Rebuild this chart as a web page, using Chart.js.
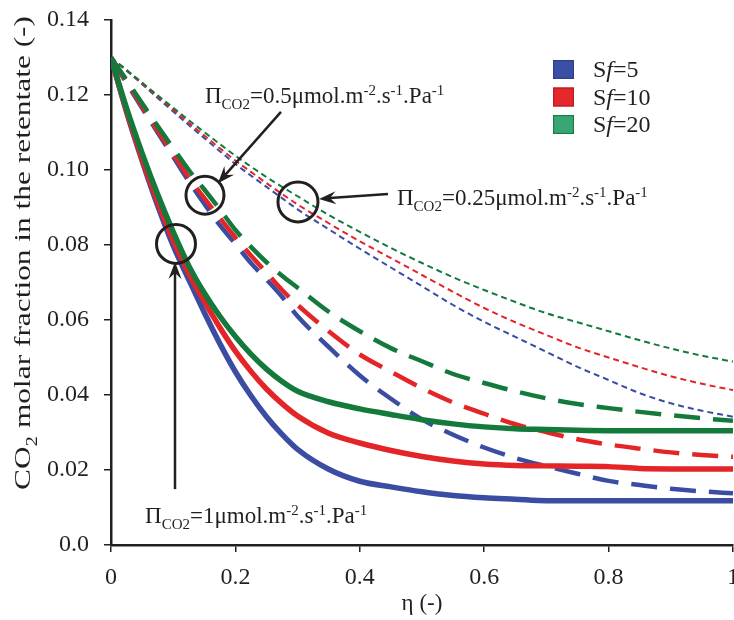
<!DOCTYPE html>
<html><head><meta charset="utf-8">
<script src="https://cdn.jsdelivr.net/npm/chart.js@4.4.0/dist/chart.umd.min.js"></script>
<style>html,body{margin:0;padding:0;background:#fff;overflow:hidden;}#wrap{width:760px;height:620px;}</style>
</head><body><div id="wrap"><canvas id="c" width="760" height="620"></canvas></div>
<script>
// ---- data ----
const eta = [0, 0.025, 0.05, 0.075, 0.1, 0.125, 0.15, 0.175, 0.2, 0.225, 0.25, 0.275, 0.3, 0.35, 0.4, 0.45, 0.5, 0.55, 0.6, 0.65, 0.7, 0.75, 0.8, 0.85, 0.9, 0.95, 1.0];
const sfLabels = ['5', '10', '20'];
const permeanceLabels = ['1', '0.5', '0.25'];
const xTickLabels = ['0', '0.2', '0.4', '0.6', '0.8', '1'];
const yTickLabels = ['0.0', '0.02', '0.04', '0.06', '0.08', '0.10', '0.12', '0.14'];

// Pi = 1
const pi1_sf5  = [0.130, 0.1155, 0.1025, 0.0905, 0.0798, 0.0708, 0.0620, 0.0537, 0.0462, 0.0398, 0.0342, 0.0295, 0.0255, 0.0202, 0.0170, 0.0155, 0.0142, 0.0132, 0.0126, 0.0122, 0.0118, 0.0118, 0.0118, 0.0118, 0.0118, 0.0118, 0.0118];
const pi1_sf10 = [0.130, 0.1158, 0.1030, 0.0915, 0.0812, 0.0725, 0.0650, 0.0580, 0.0517, 0.0463, 0.0416, 0.0377, 0.0344, 0.0298, 0.0272, 0.0252, 0.0236, 0.0224, 0.0216, 0.0212, 0.0211, 0.0210, 0.0209, 0.0204, 0.0203, 0.0203, 0.0203];
const pi1_sf20 = [0.130, 0.1165, 0.1045, 0.0935, 0.0835, 0.0745, 0.0672, 0.0610, 0.0556, 0.0509, 0.0469, 0.0436, 0.0410, 0.0382, 0.0363, 0.0348, 0.0334, 0.0323, 0.0315, 0.0310, 0.0308, 0.0306, 0.0305, 0.0305, 0.0305, 0.0305, 0.0305];
// Pi = 0.5
const pi05_sf5  = [0.130, 0.1232, 0.1165, 0.1100, 0.1035, 0.0970, 0.0910, 0.0853, 0.0803, 0.0752, 0.0708, 0.0662, 0.0610, 0.0528, 0.0452, 0.0390, 0.0335, 0.0294, 0.0260, 0.0232, 0.0210, 0.0190, 0.0171, 0.0160, 0.0150, 0.0143, 0.0138];
const pi05_sf10 = [0.130, 0.1235, 0.1170, 0.1105, 0.1042, 0.0980, 0.0925, 0.0872, 0.0820, 0.0772, 0.0726, 0.0680, 0.0640, 0.0570, 0.0508, 0.0462, 0.0418, 0.0380, 0.0350, 0.0322, 0.0301, 0.0282, 0.0268, 0.0257, 0.0247, 0.0240, 0.0235];
const pi05_sf20 = [0.130, 0.1240, 0.1178, 0.1117, 0.1058, 0.1000, 0.0948, 0.0895, 0.0840, 0.0795, 0.0754, 0.0718, 0.0686, 0.0622, 0.0570, 0.0525, 0.0490, 0.0456, 0.0432, 0.0410, 0.0391, 0.0376, 0.0365, 0.0355, 0.0346, 0.0338, 0.0331];
// Pi = 0.25
const pi025_sf5  = [0.130, 0.1265, 0.1229, 0.1192, 0.1156, 0.1120, 0.1085, 0.1050, 0.1016, 0.0985, 0.0955, 0.0925, 0.0895, 0.0842, 0.0790, 0.0740, 0.0690, 0.0640, 0.0595, 0.0555, 0.0515, 0.0475, 0.0440, 0.0405, 0.0378, 0.0358, 0.0342];
const pi025_sf10 = [0.130, 0.1266, 0.1231, 0.1196, 0.1161, 0.1126, 0.1092, 0.1058, 0.1025, 0.0995, 0.0965, 0.0936, 0.0908, 0.0858, 0.0810, 0.0765, 0.0720, 0.0675, 0.0632, 0.0594, 0.0560, 0.0527, 0.0500, 0.0474, 0.0450, 0.0430, 0.0413];
const pi025_sf20 = [0.130, 0.1267, 0.1233, 0.1199, 0.1166, 0.1133, 0.1101, 0.1069, 0.1038, 0.1009, 0.0981, 0.0955, 0.0930, 0.0880, 0.0835, 0.0792, 0.0752, 0.0714, 0.0680, 0.0648, 0.0618, 0.0594, 0.0570, 0.0546, 0.0524, 0.0505, 0.0489];

// ---- styles ----
const FONT = '"Liberation Serif", "Times New Roman", serif';
const INK = '#231f20';
const lineColors = ['#3a4da3', '#e42527', '#137a3b'];
const boxFill = ['#3a4fa6', '#e5282b', '#3aa676'];
const boxEdge = ['#2e3f8c', '#b81d20', '#17803f'];

const series = {
  '1':    [pi1_sf5, pi1_sf10, pi1_sf20],
  '0.5':  [pi05_sf5, pi05_sf10, pi05_sf20],
  '0.25': [pi025_sf5, pi025_sf10, pi025_sf20]
};
const styleFor = {
  '1':    {borderWidth: 5.5, borderDash: []},
  '0.5':  {borderWidth: 4.5, borderDash: [26, 13]},
  '0.25': {borderWidth: 2, borderDash: [6, 4]}
};

const datasets = [];
permeanceLabels.forEach((p, pi) => {
  [2, 1, 0].forEach(si => {
    datasets.push({
      label: 'Pi=' + p + ' Sf=' + sfLabels[si],
      data: eta.map((x, i) => ({x: x, y: series[p][si][i]})),
      borderColor: lineColors[si],
      borderWidth: styleFor[p].borderWidth,
      borderDash: styleFor[p].borderDash,
      borderCapStyle: 'butt',
      pointRadius: 0,
      fill: false,
      cubicInterpolationMode: 'monotone'
    });
  });
});

// ---- rich text helper ----
function fontFor(p, size) {
  const s = (p.sub || p.sup) ? Math.round(size * 0.66) : size;
  return (p.italic ? 'italic ' : '') + s + 'px ' + FONT;
}
function richWidth(ctx, parts, size) {
  let w = 0;
  parts.forEach(p => { ctx.font = fontFor(p, size); w += ctx.measureText(p.t).width; });
  return w;
}
function drawRich(ctx, x, y, parts, size) {
  let cx = x;
  parts.forEach(p => {
    ctx.font = fontFor(p, size);
    const dy = p.sub ? size * 0.28 : (p.sup ? -size * 0.36 : 0);
    ctx.fillText(p.t, cx, y + dy);
    cx += ctx.measureText(p.t).width;
  });
}
function piParts(v) {
  return [{t: 'Π'}, {t: 'CO2', sub: true}, {t: '=' + v + 'μmol.m'}, {t: '-2', sup: true},
          {t: '.s'}, {t: '-1', sup: true}, {t: '.Pa'}, {t: '-1', sup: true}];
}
function arrow(ctx, x1, y1, x2, y2) {
  const ang = Math.atan2(y2 - y1, x2 - x1);
  const L = 17, W = 6.5, N = 11;
  ctx.beginPath();
  ctx.moveTo(x1, y1);
  ctx.lineTo(x2 - Math.cos(ang) * N, y2 - Math.sin(ang) * N);
  ctx.stroke();
  ctx.beginPath();
  ctx.moveTo(x2, y2);
  ctx.lineTo(x2 - Math.cos(ang) * L - Math.sin(ang) * W, y2 - Math.sin(ang) * L + Math.cos(ang) * W);
  ctx.lineTo(x2 - Math.cos(ang) * N, y2 - Math.sin(ang) * N);
  ctx.lineTo(x2 - Math.cos(ang) * L + Math.sin(ang) * W, y2 - Math.sin(ang) * L - Math.cos(ang) * W);
  ctx.closePath();
  ctx.fill();
}

// annotations in data coordinates
const annotations = {
  circles: [{x: 0.1045, y: 0.0803, r: 19.5}, {x: 0.1511, y: 0.0933, r: 19}, {x: 0.3006, y: 0.0915, r: 20}],
  arrows: [
    {from: [0.1029, 0.0149], to: [0.1029, 0.0755]},
    {from: [0.2733, 0.1155], to: [0.1720, 0.0965]},
    {from: [0.4453, 0.0936], to: [0.3344, 0.0923]}
  ],
  labels: [
    {x: 0.0547, y: 0.0059, v: permeanceLabels[0]},
    {x: 0.1511, y: 0.1179, v: permeanceLabels[1]},
    {x: 0.4598, y: 0.0907, v: permeanceLabels[2]}
  ]
};

const annotPlugin = {
  id: 'annot',
  afterDraw(chart) {
    const ctx = chart.ctx;
    const xs = chart.scales.x, ys = chart.scales.y;
    ctx.save();
    ctx.strokeStyle = INK; ctx.fillStyle = INK;
    ctx.lineWidth = 3;
    annotations.circles.forEach(c => {
      ctx.beginPath();
      ctx.arc(xs.getPixelForValue(c.x), ys.getPixelForValue(c.y), c.r, 0, Math.PI * 2);
      ctx.stroke();
    });
    ctx.lineWidth = 2.5;
    annotations.arrows.forEach(a => {
      arrow(ctx, xs.getPixelForValue(a.from[0]), ys.getPixelForValue(a.from[1]),
                 xs.getPixelForValue(a.to[0]), ys.getPixelForValue(a.to[1]));
    });
    ctx.textBaseline = 'alphabetic'; ctx.textAlign = 'left';
    annotations.labels.forEach(l => {
      drawRich(ctx, xs.getPixelForValue(l.x), ys.getPixelForValue(l.y), piParts(l.v), 23);
    });
    // legend
    const lx = 553, ly0 = 60, step = 27.5;
    sfLabels.forEach((s, i) => {
      const y = ly0 + i * step;
      ctx.fillStyle = boxFill[i];
      ctx.fillRect(lx, y, 21, 19);
      ctx.strokeStyle = boxEdge[i]; ctx.lineWidth = 1.2;
      ctx.strokeRect(lx + 0.6, y + 0.6, 19.8, 17.8);
      ctx.fillStyle = INK;
      drawRich(ctx, 593, y + 17, [{t: 'S'}, {t: 'f', italic: true}, {t: '=' + s}], 24);
    });
    // y title (stretched along its length like the reference)
    const parts = [{t: 'CO'}, {t: '2', sub: true}, {t: ' molar fraction in the retentate (-)'}];
    ctx.translate(30, 253);
    ctx.rotate(-Math.PI / 2);
    const size = 24;
    const w = richWidth(ctx, parts, size);
    const target = 474;
    ctx.scale(target / w, 1);
    drawRich(ctx, -w / 2, 0, parts, size);
    ctx.restore();
  }
};

new Chart(document.getElementById('c'), {
  type: 'line',
  data: {datasets: datasets},
  options: {
    responsive: false,
    animation: false,
    devicePixelRatio: 1,
    layout: {padding: {left: 0, right: 27, top: 20, bottom: 0}},
    plugins: {legend: {display: false}, tooltip: {enabled: false}},
    scales: {
      x: {
        type: 'linear', min: 0, max: 1,
        ticks: {stepSize: 0.2, callback: (v, i) => xTickLabels[i], font: {family: FONT, size: 24}, color: INK, padding: 11, maxRotation: 0},
        grid: {drawOnChartArea: false, drawTicks: true, tickLength: 7, color: INK, lineWidth: 1.5},
        border: {display: true, color: INK, width: 2.5},
        title: {display: true, text: 'η (-)', font: {family: FONT, size: 23}, color: INK, padding: {top: 0, bottom: 2}},
        afterFit: s => { s.height = 75; s.paddingLeft = 0; s.paddingRight = 0; }
      },
      y: {
        type: 'linear', min: 0, max: 0.14,
        ticks: {stepSize: 0.02, callback: (v, i) => yTickLabels[i], font: {family: FONT, size: 24}, color: INK, padding: 15},
        grid: {drawOnChartArea: false, drawTicks: true, tickLength: 7, color: INK, lineWidth: 1.5},
        border: {display: true, color: INK, width: 2.5},
        afterFit: s => { s.width = 111; s.paddingTop = 0; s.paddingBottom = 0; }
      }
    }
  },
  plugins: [annotPlugin]
});
</script></body></html>
